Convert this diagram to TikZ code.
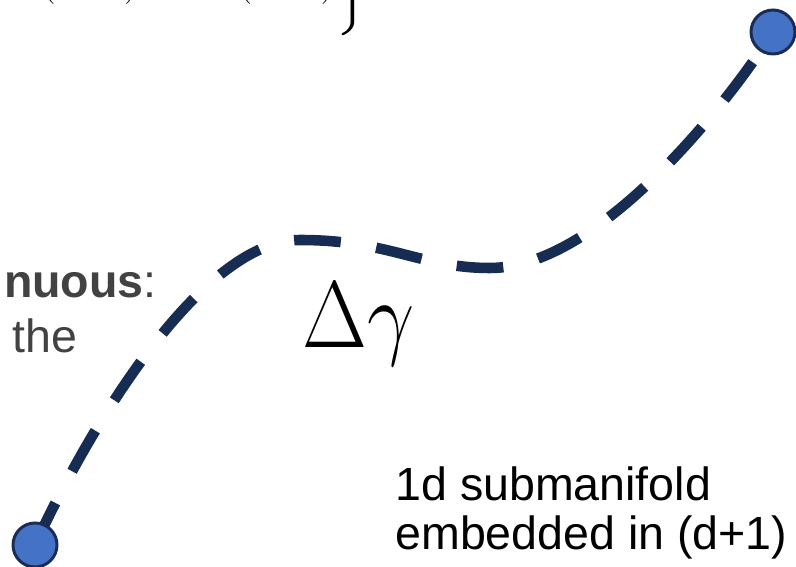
\documentclass[tikz,border=0pt]{standalone}
\usepackage{fontspec}
\setmainfont{Liberation Sans}
\usepackage{amsmath}
\usepackage{graphicx}
\usetikzlibrary{positioning, backgrounds}
\definecolor{pathNavy}{HTML}{172C52}
\definecolor{endFill}{HTML}{4472C4}
\definecolor{endDraw}{HTML}{1B2D57}
\definecolor{muted}{HTML}{424242}

\begin{document}
\begin{tikzpicture}[x=0.02cm, y=-0.02cm, endpt/.style={circle, fill=endFill, draw=endDraw, line width=1.7pt, minimum size=0.88cm, inner sep=0pt},curve/.style={line width=6pt, color=pathNavy, dash pattern=on 26.6pt off 20.4pt},slide/.style={font=\fontsize{26.5}{28.3}\selectfont, inner sep=0pt},side/.style={slide, color=muted, anchor=base east}]
\useasboundingbox (0,0) rectangle (796,567);
\clip (0,0) rectangle (796,567);
\node[endpt] (a) at (35,545) {};
\node[endpt] (b) at (773,32) {};
\coordinate (top) at (300,240);
\coordinate (dip) at (490,268);
\begin{scope}[on background layer]
\draw[curve] (a.center) .. controls (95,415) and (205,240) .. (top) .. controls (390,240) and (420,268) .. (dip) .. controls (600,268) and (730,100) .. (b.center);
\end{scope}
\node[anchor=base west, inner sep=0pt, font=\fontsize{24.88}{30}\selectfont] (dg) at (302,348) {\scalebox{1.92}[2.17]{$\Delta\gamma$}};
\node[slide, anchor=base west, align=left] (sub) at (395,550) {1d submanifold\\embedded in (d+1)};
\node[side] (cont) at (157,298) {\textbf{nuous}:};
\node[side] (the) at (78,353) {the};
\node[anchor=base west, inner sep=0pt, font=\fontsize{24.88}{28}\selectfont] (eq) at (40,-6) {$(D\mathrm{H})\hspace{12pt}\mathord{\perp}\hspace{24pt}(D\mathrm{H})\bigg\}$};
\end{tikzpicture}
\end{document}
